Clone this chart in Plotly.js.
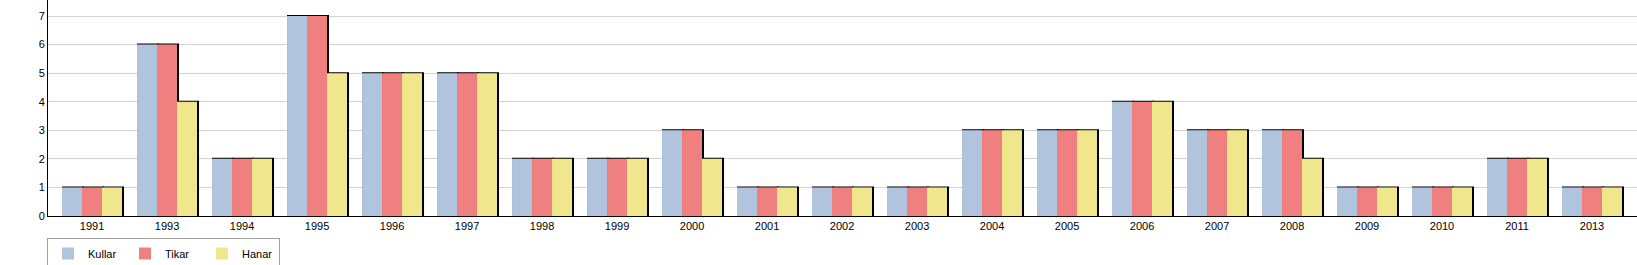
<!DOCTYPE html>
<html>
<head>
<meta charset="utf-8">
<script src="https://cdn.plot.ly/plotly-3.0.1.min.js"></script>
<style>html,body{margin:0;padding:0;background:#fff;}#chart{width:1637px;height:265px;}</style>
</head>
<body>
<div id="chart"></div>
<script>
const years = ["1991","1993","1994","1995","1996","1997","1998","1999","2000","2001","2002","2003","2004","2005","2006","2007","2008","2009","2010","2011","2013"];
const kullar = [1,6,2,7,5,5,2,2,3,1,1,1,3,3,4,3,3,1,1,2,1];
const tikar  = [1,6,2,7,5,5,2,2,3,1,1,1,3,3,4,3,3,1,1,2,1];
const hanar  = [1,4,2,5,5,5,2,2,2,1,1,1,3,3,4,3,2,1,1,2,1];
const seriesNames = ["Kullar","Tikar","Hanar"];
const seriesColors = ["#B0C4DE","#F08080","#F0E68C"];

const seriesData = [kullar, tikar, hanar];
const w = 0.8/3;
const px = 1/75; // one pixel in category units
const traces = [];
seriesData.forEach((vals, i) => {
  const off = -0.4 + i*w;
  traces.push({
    type: 'bar', x: years, y: vals, width: w, offset: off + px,
    marker: {color: '#000', line: {color: '#000', width: 2}},
    showlegend: false, hoverinfo: 'skip'
  });
  traces.push({
    type: 'bar', x: years, y: vals, width: w, offset: off, name: seriesNames[i],
    marker: {color: seriesColors[i], line: {width: 0}}
  });
});

const layout = {
  width: 1637, height: 265,
  margin: {l: 48, r: 0, t: 0, b: 49, pad: 0, autoexpand: false},
  paper_bgcolor: '#fff', plot_bgcolor: '#fff',
  barmode: 'overlay',
  font: {family: 'Liberation Sans, Arial, sans-serif', size: 11, color: '#000'},
  xaxis: {
    type: 'category', range: [-0.587, 20.6], automargin: false,
    showline: true, linecolor: '#000', linewidth: 1,
    showgrid: false, zeroline: false, ticks: '', tickfont: {size: 11}
  },
  yaxis: {
    range: [0, 7.56], dtick: 1, tick0: 0, automargin: false,
    showline: true, linecolor: '#000', linewidth: 1,
    showgrid: true, gridcolor: '#d3d3d3', gridwidth: 1,
    zeroline: false, ticks: '', tickfont: {size: 11}
  },
  showlegend: true,
  legend: {
    orientation: 'h', xref: 'container', yref: 'container',
    x: 47/1637, xanchor: 'left', y: 1 - 238/265, yanchor: 'top',
    bordercolor: '#a0a0a0', borderwidth: 1, bgcolor: '#fff',
    font: {size: 11}, itemwidth: 30, entrywidth: 32, traceorder: 'normal',
    tracegroupgap: 0
  }
};
Plotly.newPlot('chart', traces, layout, {staticPlot: true, displayModeBar: false});
</script>
</body>
</html>
